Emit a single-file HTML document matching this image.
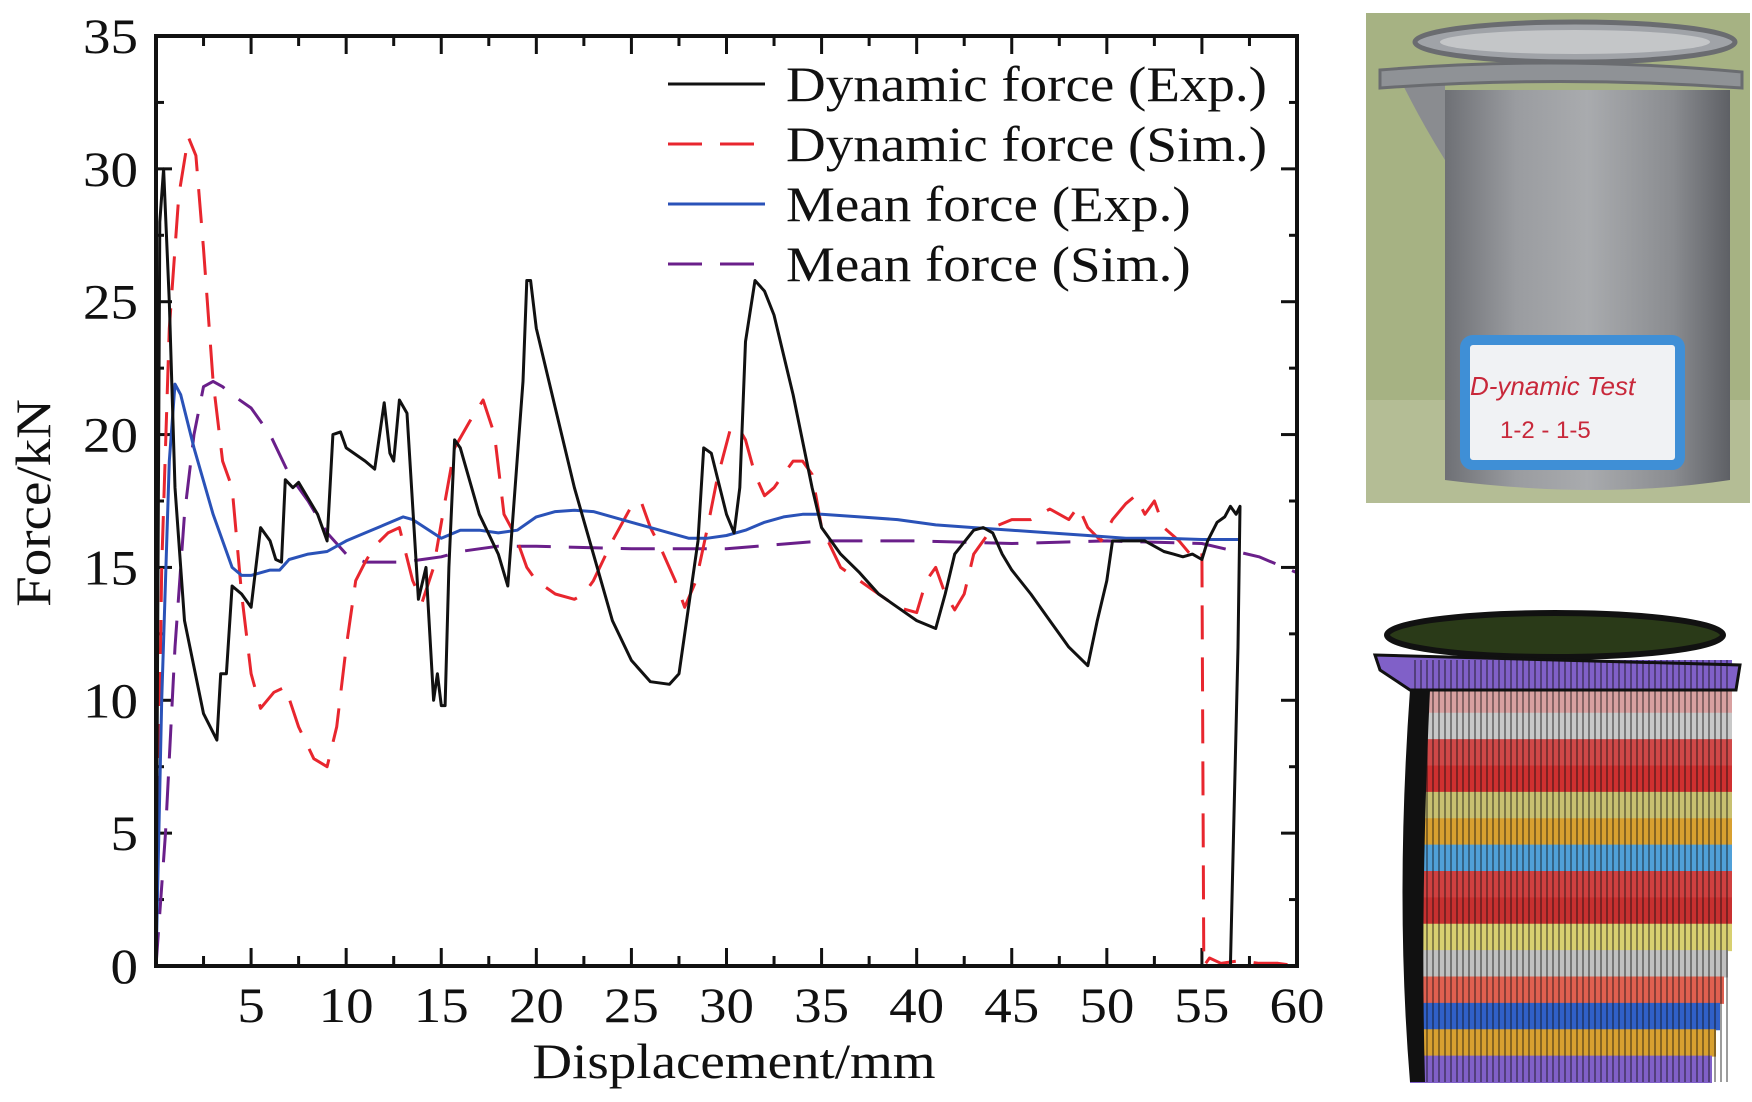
<!DOCTYPE html>
<html><head><meta charset="utf-8"><style>
html,body{margin:0;padding:0;background:#fff;}
svg{display:block;font-family:"Liberation Serif",serif;}
</style></head><body>
<svg id="chart" width="1752" height="1102" viewBox="0 0 1752 1102" xmlns="http://www.w3.org/2000/svg">
<g id="photo">
  <defs>
    <linearGradient id="cyl" x1="0" x2="1" y1="0" y2="0">
      <stop offset="0" stop-color="#6e7075"/><stop offset="0.25" stop-color="#9a9ca0"/><stop offset="0.5" stop-color="#a9abae"/><stop offset="0.8" stop-color="#8a8c90"/><stop offset="1" stop-color="#5e6065"/>
    </linearGradient>
  </defs>
  <rect x="1366" y="13" width="384" height="490" fill="#a6b283"/>
  <rect x="1366" y="400" width="384" height="103" fill="#b4bd95"/>
  <path d="M1445 90 L1730 90 L1730 480 Q1600 500 1445 480 Z" fill="url(#cyl)"/>
  <path d="M1398 75 L1445 85 L1445 160 Q1420 120 1398 75Z" fill="#8a8c90"/>
  <ellipse cx="1575" cy="42" rx="160" ry="20" fill="#a0a3a8" stroke="#6a6c70" stroke-width="5"/>
  <ellipse cx="1575" cy="42" rx="135" ry="12" fill="#c4c6c8"/>
  <path d="M1380 70 Q1560 55 1742 72 L1742 88 Q1560 75 1380 88Z" fill="#8f9296" stroke="#6a6c70" stroke-width="3"/>
  <rect x="1465" y="340" width="215" height="125" rx="8" fill="#f0f2f4" stroke="#3f8fd6" stroke-width="10"/>
  <text x="1470" y="395" font-size="26" fill="#c8283a" font-family="Liberation Sans, sans-serif" font-style="italic">D-ynamic Test</text>
  <text x="1500" y="438" font-size="24" fill="#c8283a" font-family="Liberation Sans, sans-serif">1-2 - 1-5</text>
</g>
<g id="mesh"></g>
<g id="plot"></g>
</svg>
<script>
const xTicks=[5,10,15,20,25,30,35,40,45,50,55,60];
const yTicks=[0,5,10,15,20,25,30,35];
const seriesNames=["Dynamic force (Exp.)","Dynamic force (Sim.)","Mean force (Exp.)","Mean force (Sim.)"];
const expX=[0,0.2,0.4,0.7,1,1.5,2.5,3.2,3.4,3.7,4,4.5,5,5.5,6,6.3,6.6,6.8,7.2,7.5,8.5,9,9.3,9.7,10,11,11.5,12,12.3,12.5,12.8,13.2,13.8,14.2,14.6,14.8,15,15.2,15.4,15.7,16,17,18,18.5,19.3,19.5,19.7,20,21,22,23,24,25,26,27,27.5,28,28.5,28.8,29.2,30,30.4,30.7,31,31.5,32,32.5,33.5,34.5,35,36,37,38,39,40,41,41.5,42,43,43.5,44,44.5,45,46,47,48,49,49.5,50,50.3,51,52,53,53.5,54,54.5,55,55.3,55.8,56.2,56.5,56.8,57,56.9,56.5];
const expY=[0,28,30,25,18,13,9.5,8.5,11,11,14.3,14,13.5,16.5,16,15.3,15.2,18.3,18,18.2,17,16,20,20.1,19.5,19,18.7,21.2,19.3,19,21.3,20.8,13.8,15,10,11,9.8,9.8,15,19.8,19.5,17,15.5,14.3,22,25.8,25.8,24,21,18,15.5,13,11.5,10.7,10.6,11,13.5,16,19.5,19.3,17,16.3,18,23.5,25.8,25.4,24.5,21.5,18,16.5,15.5,14.8,14,13.5,13,12.7,14,15.5,16.4,16.5,16.3,15.5,14.9,14,13,12,11.3,13,14.5,16,16,16,15.6,15.5,15.4,15.5,15.3,16,16.7,16.9,17.3,17,17.3,12,0];
const simX=[0,0.3,0.7,1.2,1.7,2.1,2.5,3,3.5,4,4.5,5,5.5,6.2,6.8,7.5,8.3,9,9.5,10,10.5,11,11.5,12.2,12.8,13.5,14,14.6,15.2,15.7,16.5,17.2,17.8,18.3,18.9,19.5,20,21,22,22.5,23,24,25,25.5,26,26.5,27.3,27.8,28.4,29,29.5,30.2,30.6,31,31.5,32,32.5,33.5,34,34.5,35,36,37,38,39,40,40.5,41,41.5,42,42.5,43,44,45,46,47,48,48.5,49,49.7,50.3,51,51.5,52,52.5,53,53.8,54.5,55,55.1,55.4,56,57,58,59,60];
const simY=[0,15,24,29,31.2,30.5,27,22,19,18,14,11,9.7,10.3,10.5,9,7.8,7.5,9,12,14.5,15.2,15.8,16.3,16.5,14.5,13.7,15,17.5,19.5,20.5,21.3,20,17,16.2,15,14.5,14,13.8,14,14.5,16,17.3,17.5,16.5,15.8,14.5,13.5,14.5,16.5,18.3,20.2,20.3,19.8,18.5,17.7,18,19,19,18.5,16.5,15,14.5,14,13.5,13.3,14.5,15,14,13.4,14,15.5,16.5,16.8,16.8,17.2,16.8,17.3,16.5,16,16.8,17.4,17.7,17,17.5,16.5,16,15.4,15.6,0,0.3,0.1,0.2,0.1,0.1,0];
const meanExpX=[0,0.3,0.7,1,1.3,2,3,4,4.5,5,6,6.5,7,8,9,10,11,12,13,13.5,15,16,17,18,19,20,21,22,23,24,25,26,27,28,29,30,31,32,33,34,35,37,39,41,43,45,47,49,51,53,55,57];
const meanExpY=[0,10,19,21.9,21.5,19.5,17,15,14.7,14.7,14.9,14.9,15.3,15.5,15.6,16,16.3,16.6,16.9,16.8,16.1,16.4,16.4,16.3,16.4,16.9,17.1,17.15,17.1,16.9,16.7,16.5,16.3,16.1,16.1,16.2,16.4,16.7,16.9,17,17,16.9,16.8,16.6,16.5,16.4,16.3,16.2,16.1,16.1,16.05,16.05];
const meanSimX=[0,0.5,1,1.5,2,2.5,3,3.5,4,5,6,7,8,9,10,11,12,13,14,15,16,17,18,19,20,25,30,35,40,45,50,55,58,60];
const meanSimY=[0,5,12,17,20,21.8,22,21.8,21.5,21,20,18.5,17.5,16.3,15.5,15.2,15.2,15.2,15.3,15.4,15.6,15.7,15.8,15.8,15.8,15.7,15.7,16,16,15.9,16,15.9,15.4,14.8];

const NS="http://www.w3.org/2000/svg";
const L=156,R=1297,T=36,B=966;
const sx=v=>L+(v/60)*(R-L);
const sy=v=>B-(v/35)*(B-T);
const plot=document.getElementById('plot');
function mk(tag,attrs,parent){const e=document.createElementNS(NS,tag);for(const k in attrs)e.setAttribute(k,attrs[k]);(parent||plot).appendChild(e);return e;}

for(let i=1;i<24;i++){const v=i*2.5;const len=(i%2===0)?18:10;
  let t=mk('line',{x1:sx(v),x2:sx(v),y1:B,y2:B-len,stroke:'#111','stroke-width':3});
  
  
  mk('line',{x1:sx(v),x2:sx(v),y1:T,y2:T+len,stroke:'#111','stroke-width':3});}
for(let i=1;i<14;i++){const v=i*2.5;const len=(i%2===0)?16:8;
  let t=mk('line',{x1:L,x2:L+len,y1:sy(v),y2:sy(v),stroke:'#111','stroke-width':3});
  
  
  mk('line',{x1:R,x2:R-len,y1:sy(v),y2:sy(v),stroke:'#111','stroke-width':3});}
xTicks.forEach(v=>{const t=mk('text',{x:sx(v),y:1022,'font-size':50,'text-anchor':'middle',fill:'#111'});t.textContent=v;
  
  });
yTicks.forEach(v=>{const t=mk('text',{x:138,y:sy(v)+17,'font-size':50,'text-anchor':'end',fill:'#111'});t.textContent=v;
  
  });
let xl=mk('text',{x:734,y:1078,'font-size':50,'text-anchor':'middle',fill:'#111'});xl.textContent='Displacement/mm';


let yl=mk('text',{x:0,y:0,'font-size':50,'text-anchor':'middle',fill:'#111',transform:'translate(50,503) rotate(-90)'});yl.textContent='Force/kN';



function line(xs,ys,color,dash,w,name){
  const d=xs.map((x,i)=>(i?'L':'M')+sx(x).toFixed(1)+' '+sy(ys[i]).toFixed(1)).join(' ');
  const p=mk('path',{d:d,fill:'none',stroke:color,'stroke-width':w,'stroke-dasharray':dash||'none','stroke-linejoin':'round'});
  
  }
line(meanSimX,meanSimY,'#6a1f8a','34 18',3,'mean-force-sim-line');
line(simX,simY,'#e8262e','34 18',3,'dynamic-force-sim-line');
line(meanExpX,meanExpY,'#2a52b8','',3,'mean-force-exp-line');
line(expX,expY,'#111','',3,'dynamic-force-exp-line');

mk('rect',{x:L,y:T,width:R-L,height:B-T,fill:'none',stroke:'#111','stroke-width':4});

const colors=['#111','#e8262e','#2a52b8','#6a1f8a'];const dashes=['','34 18','','34 18'];
seriesNames.forEach((n,i)=>{const y=84+i*60;
  const g=mk('g',{});
  
  
  mk('line',{x1:668,x2:765,y1:y,y2:y,stroke:colors[i],'stroke-width':3,'stroke-dasharray':dashes[i]||'none'},g);
  const t=mk('text',{x:786,y:y+17,'font-size':50,fill:'#111'},g);t.textContent=n;});

// widen serif text to match reference
plot.querySelectorAll('text').forEach(t=>{const w=t.getComputedTextLength();t.setAttribute('textLength',(w*1.1).toFixed(1));t.setAttribute('lengthAdjust','spacingAndGlyphs');});

const mesh=document.getElementById('mesh');
const stripe=['#7a5cc8','#d8a0a0','#c8c8c8','#d04848','#d03030','#c8c070','#d8a030','#50a0d8','#d04040','#c83030','#d8d070','#c0c0c0','#e06050','#3060c8','#d8a030','#8060c8'];
const meshTop=660,meshBot=1082,h=(meshBot-meshTop)/stripe.length;
stripe.forEach((c,i)=>{const y=meshTop+i*h;const lx=1410+(i<6?(6-i)*2:0);
  mk('rect',{x:lx,y:y,width:1732-lx-(i>10?(i-10)*4:0),height:h+1,fill:c},mesh);});
mk('ellipse',{cx:1555,cy:635,rx:168,ry:22,fill:'#2a3a18',stroke:'#111','stroke-width':6},mesh);
mk('path',{d:'M1375 655 L1740 665 L1736 690 L1410 690 L1380 670Z',fill:'#8060c8',stroke:'#111','stroke-width':3},mesh);
for(let x=1415;x<1730;x+=6) mk('line',{x1:x,x2:x,y1:660,y2:1082,stroke:'#111','stroke-width':1.5,opacity:0.55},mesh);
mk('path',{d:'M1410 690 Q1395 900 1410 1082 L1425 1082 Q1420 900 1430 690Z',fill:'#111'},mesh);
</script>
</body></html>
